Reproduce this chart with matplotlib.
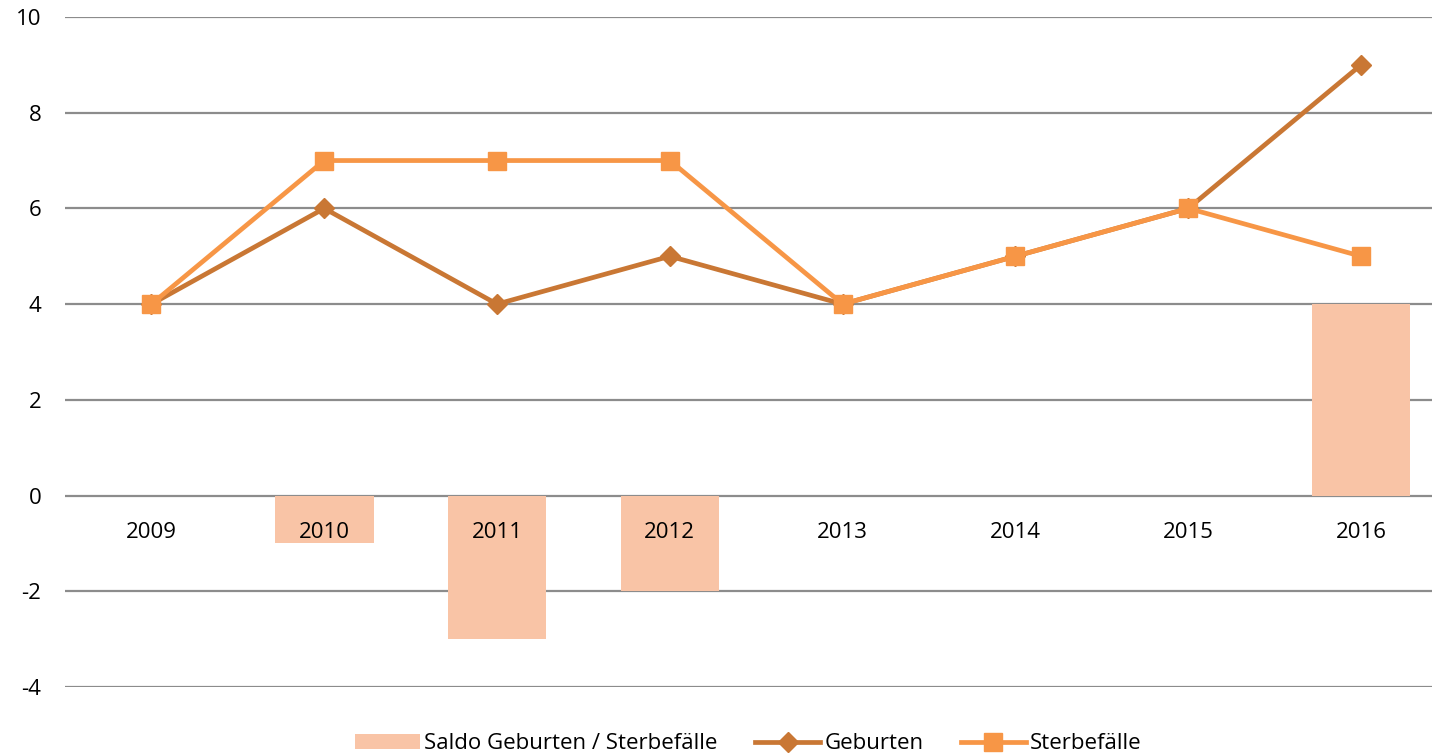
import matplotlib.pyplot as plt
import numpy as np

plt.rcParams['font.family'] = ['Open Sans', 'DejaVu Sans']
plt.rcParams['axes.unicode_minus'] = False

jahre = ['2009', '2010', '2011', '2012', '2013', '2014', '2015', '2016']
geburten = [4, 6, 4, 5, 4, 5, 6, 9]
sterbefaelle = [4, 7, 7, 7, 4, 5, 6, 5]
saldo = [g - s for g, s in zip(geburten, sterbefaelle)]

x = np.arange(len(jahre))

fig = plt.figure(figsize=(14.39, 7.54), dpi=100)
ax = fig.add_axes([0.0452, 0.0889, 0.9499, 0.8886])

ax.bar(x, saldo, width=0.57, color='#F9C4A6', label='Saldo Geburten / Sterbefälle', zorder=2)
ax.plot(x, geburten, color='#C97734', lw=3.4, marker='D', ms=10,
        label='Geburten', zorder=3)
ax.plot(x, sterbefaelle, color='#F79646', lw=3.4, marker='s', ms=13,
        label='Sterbefälle', zorder=4)

ax.set_xlim(-0.5, len(jahre) - 0.59)
ax.set_ylim(-4, 10)
ax.set_yticks(np.arange(-4, 11, 2))
ax.yaxis.grid(True, color='#8C8C8C', lw=1.6, zorder=1)
ax.set_axisbelow(True)
ax.set_xticks([])
ax.tick_params(axis='y', length=0, pad=17, labelsize=16)
for s in ax.spines.values():
    s.set_visible(False)

for i, j in enumerate(jahre):
    ax.text(i, -0.77, j, ha='center', va='center', fontsize=16, zorder=5)

h, l = ax.get_legend_handles_labels()
order = [2, 0, 1]
ax.legend([h[k] for k in order], [l[k] for k in order],
          loc='center', bbox_to_anchor=(0.5, -0.085), ncol=3, frameon=False,
          fontsize=16, handlelength=2.9, columnspacing=1.7, handletextpad=0.2)

fig.savefig('out.png', dpi=100)
